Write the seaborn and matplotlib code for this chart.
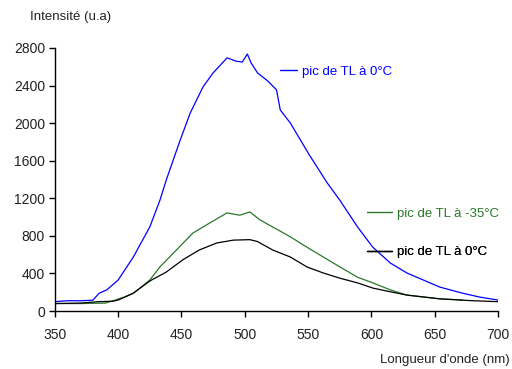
import matplotlib
matplotlib.use("Agg")
import matplotlib.pyplot as plt
import seaborn as sns
import pandas as pd
from matplotlib.lines import Line2D

# ---- data ----
blue_x = [350, 360, 370, 380, 385, 391, 400, 412, 425, 433, 438, 449, 457, 467, 475,
          486, 493, 498, 502, 505, 510, 518, 525, 528, 536, 551, 565, 575, 589, 601,
          615, 628, 641, 654, 672, 685, 700]
blue_y = [100, 110, 110, 115, 190, 225, 330, 575, 895, 1180, 1395, 1820, 2110, 2385, 2535,
          2695, 2660, 2650, 2735, 2640, 2535, 2450, 2355, 2140, 2000, 1660, 1365, 1180, 895, 680,
          510, 405, 330, 255, 190, 150, 117]

green_x = [350, 370, 390, 396, 405, 412, 425, 433, 446, 459, 472, 486, 496, 504, 512,
           522, 536, 549, 562, 575, 589, 601, 615, 628, 641, 654, 672]
green_y = [80, 80, 85, 110, 150, 190, 330, 470, 650, 830, 935, 1045, 1020, 1055, 970,
           895, 790, 680, 575, 470, 360, 300, 225, 170, 150, 130, 117]

black_x = [350, 370, 385, 396, 400, 412, 425, 438, 451, 464, 478, 491, 504, 510, 522,
           536, 549, 562, 575, 589, 601, 615, 628, 654, 680, 700]
black_y = [80, 85, 100, 105, 117, 190, 320, 415, 545, 650, 725, 755, 760, 740, 650,
           575, 470, 405, 350, 300, 245, 205, 170, 130, 110, 100]

labels = ["pic de TL à 0°C", "pic de TL à -35°C", "pic de TL à 0°C"]
colors = ["#0000ff", "#2a782a", "#000000"]
y_ticks = [0, 400, 800, 1200, 1600, 2000, 2400, 2800]
x_ticks = [350, 400, 450, 500, 550, 600, 650, 700]

sns.set_theme(style="white")
plt.rcParams["font.family"] = ["Liberation Sans", "DejaVu Sans"]

fig = plt.figure(figsize=(5.12, 3.69), dpi=100)
ax = fig.add_axes([0.107, 0.157, 0.866, 0.713])

series = [(blue_x, blue_y), (green_x, green_y), (black_x, black_y)]
for (xs, ys), c in zip(series, colors):
    df = pd.DataFrame({"x": xs, "y": ys})
    sns.lineplot(data=df, x="x", y="y", ax=ax, color=c, linewidth=0.9, legend=False)

ax.set_xlim(350, 700)
ax.set_ylim(0, 2800)
ax.set_xticks(x_ticks)
ax.set_yticks(y_ticks)
ax.set_xlabel("")
ax.set_ylabel("")
for s in ["top", "right"]:
    ax.spines[s].set_visible(False)
for s in ["left", "bottom"]:
    ax.spines[s].set_color("black")
    ax.spines[s].set_linewidth(1.0)
ax.tick_params(axis="both", which="major", direction="out", length=4, width=1,
               color="black", labelsize=10, labelcolor="#222222", pad=3,
               left=True, bottom=True)
ax.tick_params(axis="x", pad=8)

fig.text(0.059, 0.955, "Intensité (u.a)", fontsize=9.5, color="#222222", ha="left", va="center")
fig.text(0.995, 0.025, "Longueur d'onde (nm)", fontsize=9.5, color="#222222", ha="right", va="center")

# legends as labelled line stubs
legend_pos = [(0.508, 0.909, 1.3), (0.704, 0.369, 1.9), (0.704, 0.224, 1.9)]
for lab, c, (lx, ly, hl) in zip(labels, colors, legend_pos):
    h = Line2D([], [], color=c, linewidth=1.0)
    lg = ax.legend([h], [lab], loc="center left", bbox_to_anchor=(lx, ly),
                   frameon=False, fontsize=9.5, handlelength=hl, handletextpad=0.35,
                   borderpad=0, borderaxespad=0, labelcolor=c)
    ax.add_artist(lg)

fig.savefig("out.png", dpi=100)
